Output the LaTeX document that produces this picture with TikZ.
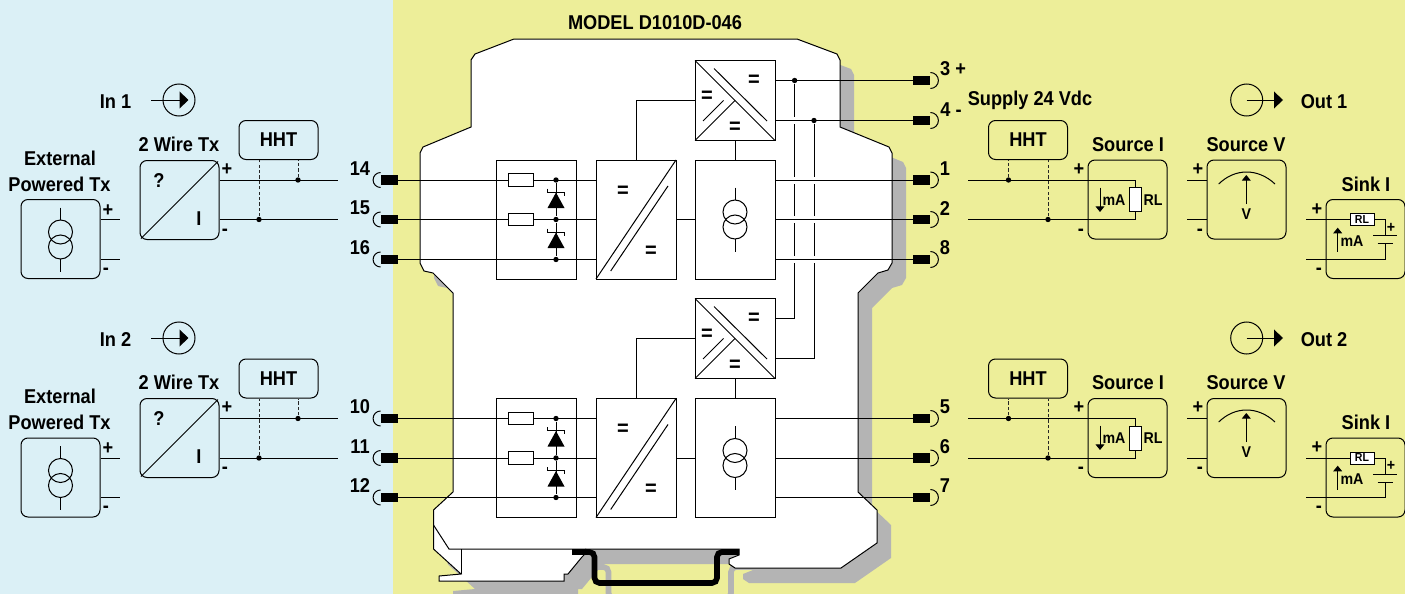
\documentclass[tikz,border=0pt]{standalone}
\usepackage{fontspec}
\setmainfont{Liberation Sans}[FakeStretch=0.91]
\usepackage{xcolor}
\usepackage{tikz}
\usetikzlibrary{arrows.meta}
\definecolor{hazardblue}{RGB}{219,240,246}
\definecolor{safeyellow}{RGB}{237,238,153}
\definecolor{shadowgray}{RGB}{180,180,180}

\begin{document}
\begin{tikzpicture}%
                [x={(0.5pt, 0pt)},
                y={(0pt, -0.5pt)},
                wire/.style={color=black, line width=0.5pt},
                dashwire/.style={color=black!85, line width=0.5pt, dash pattern=on 1.6pt off 1.1pt},
                lbl/.style={inner sep=0pt, font=\bfseries\fontsize{10}{12}\selectfont},
                minilbl/.style={inner sep=0pt, font=\bfseries\fontsize{7.8}{9}\selectfont},
                eqmark/.style={inner sep=0pt, font=\bfseries\fontsize{11}{12}\selectfont},
                block/.style={draw=black, line width=0.5pt, fill=white, inner sep=0pt, minimum width=40pt, minimum height=59.5pt},
                squarebox/.style={block, minimum height=40pt},
                txbox/.style={draw=black, line width=0.5pt, inner sep=0pt, rounded corners=3.5pt, minimum width=39.5pt, minimum height=39.5pt},
                hhtbox/.style={txbox, lbl, minimum height=19.5pt},
                resbox/.style={draw=black, line width=0.5pt, fill=white, inner sep=0pt, minimum width=12.5pt, minimum height=6.2pt},
                rlbox/.style={draw=black, line width=0.5pt, fill=white, inner sep=0pt, minimum width=6pt, minimum height=12pt},
                rlsink/.style={draw=black, line width=0.5pt, fill=white, inner sep=0pt, minimum width=12pt, minimum height=6pt, font=\bfseries\fontsize{5.8}{7}\selectfont},
                termblk/.style={fill=black, inner sep=0pt, minimum width=8.5pt, minimum height=4.6pt},
                vertex/.style={circle, fill=black, inner sep=0pt, minimum size=2.7pt},
                port/.style={circle, draw=black, line width=0.5pt, inner sep=0pt, minimum size=16pt},
                bigtip/.style={wire, -{Triangle[length=4.5pt, width=8.4pt]}},
                smalltip/.style={wire, -{Triangle[length=2.8pt, width=4.4pt]}},
                railline/.style={line width=2.8pt, rounded corners=2.5pt},
                csource/.pic={
                    \draw[wire] (0,-7.5) circle[radius=6pt];
                    \draw[wire] (0,7.5) circle[radius=6pt];
                    \draw[wire] (0,-32) -- (0,-19.5);
                    \draw[wire] (0,19.5) -- (0,32);
                },
                zener/.pic={
                    \fill[black] (0,-7.5) -- (8.5,8) -- (-8.5,8) -- cycle;
                    \draw[black, line width=0.5pt] (-8.5,-11.5) -- (-8.5,-8) -- (8.5,-8) -- (8.5,-4.5);
                },
                convmarks/.pic={
                    \draw[wire] (-40,59.5) -- (40,-59.5);
                    \draw[wire] (32,-33.5) -- (-25.3,51.5);
                    \node[eqmark] (-eqa) at (-13,-28) {=};
                    \node[eqmark] (-eqb) at (15,32) {=};
                },
                dcdcmarks/.pic={
                    \draw[wire] (-40,-40) -- (40,40);
                    \draw[wire] (-21,-32) -- (32,20.5);
                    \draw[wire] (-40,40) -- (0,0);
                    \draw[wire] (-32,20.5) -- (-11.5,0);
                    \node[eqmark] (-eqa) at (19,-20) {=};
                    \node[eqmark] (-eqb) at (-28,-4) {=};
                    \node[eqmark] (-eqc) at (0,27.5) {=};
                }]
            %%
            %% Drawing the two areas
            %%
            \useasboundingbox (0,0) rectangle (1405,594);
            \fill[hazardblue] (0,0) rectangle (393,594);
            \fill[safeyellow] (393,0) rectangle (1405,594);
            %%
            %% Drawing the housing with its shadow, and the rail
            %%
            \begin{scope}
            \clip (0,0) rectangle (1405,594);
            \draw[railline, shadowgray, transform canvas={xshift=7pt, yshift=-7.5pt}] (572,552) -- (594.5,552) -- (594.5,583) -- (717,583) -- (717,552) -- (739,552);
            \draw[wire, fill=white, preaction={fill=shadowgray, transform canvas={xshift=7pt, yshift=-7.5pt}}]
                (514,39) -- (797,39) -- (837,54) -- (840,60) -- (840,127) -- (889,147) -- (892,153) -- (892,263)
                -- (888,270) -- (878,273) -- (858,293) -- (858,492) -- (877,510) -- (877,543) -- (841,568) -- (735,568)
                -- (729,564) -- (729,559) -- (739,555) -- (739,549) -- (586,549) -- (584,555) -- (582,557) -- (568,574)
                -- (564,574) -- (564,581) -- (439,581) -- (439,576) -- (461,574) -- (433.5,549) -- (433.5,510)
                -- (453,492) -- (453,293) -- (433,273) -- (424,271) -- (420,263) -- (420,153) -- (423,147) -- (471,127)
                -- (471,60) -- (475,54) -- cycle;
            \end{scope}
            \draw[wire] (433.5,525) -- (449,549) -- (586,549);
            \draw[wire] (461,549) -- (461,574);
            \draw[railline, black] (572,552) -- (594.5,552) -- (594.5,583) -- (717,583) -- (717,552) -- (739,552);
            \node[lbl] (model) at (655,23) {MODEL D1010D-046};
            %%
            %% Blocks of the two channels
            %%
            \node[block] (prot1) at (536.5,219.5) {};
            \node[block] (conv1) at (636,219.5) {};
            \node[block] (src1) at (735,219.5) {};
            \node[squarebox] (dcdc1) at (735,100.5) {};
            \node[block] (prot2) at (536.5,458) {};
            \node[block] (conv2) at (636,458) {};
            \node[block] (src2) at (735,458) {};
            \node[squarebox] (dcdc2) at (735,338.5) {};
            \pic (conv1m) at (636,219.5) {convmarks};
            \pic (conv2m) at (636,458) {convmarks};
            \pic (src1m) at (735,219.5) {csource};
            \pic (src2m) at (735,458) {csource};
            \pic (dcdc1m) at (735,100.5) {dcdcmarks};
            \pic (dcdc2m) at (735,338.5) {dcdcmarks};
            %%
            %% Input terminals
            %%
            \node[termblk] (t14) at (389.5,180) {};
            \node[termblk] (t15) at (389.5,219.5) {};
            \node[termblk] (t16) at (389.5,259.5) {};
            \node[termblk] (t10) at (389.5,418.5) {};
            \node[termblk] (t11) at (389.5,458) {};
            \node[termblk] (t12) at (389.5,497.5) {};
            \draw[wire] (t14.west) ++(0,-7.5) arc[start angle=90, end angle=270, radius=3.75pt];
            \draw[wire] (t15.west) ++(0,-7.5) arc[start angle=90, end angle=270, radius=3.75pt];
            \draw[wire] (t16.west) ++(0,-7.5) arc[start angle=90, end angle=270, radius=3.75pt];
            \draw[wire] (t10.west) ++(0,-7.5) arc[start angle=90, end angle=270, radius=3.75pt];
            \draw[wire] (t11.west) ++(0,-7.5) arc[start angle=90, end angle=270, radius=3.75pt];
            \draw[wire] (t12.west) ++(0,-7.5) arc[start angle=90, end angle=270, radius=3.75pt];
            \node[lbl] (n14) at (360,169) {14};
            \node[lbl] (n15) at (360,208) {15};
            \node[lbl] (n16) at (360,248) {16};
            \node[lbl] (n10) at (360,407) {10};
            \node[lbl] (n11) at (360,447) {11};
            \node[lbl] (n12) at (360,486) {12};
            %%
            %% Output terminals
            %%
            \node[termblk] (t3) at (921.5,80.5) {};
            \node[termblk] (t4) at (921.5,120.5) {};
            \node[termblk] (t1) at (921.5,180) {};
            \node[termblk] (t2) at (921.5,219.5) {};
            \node[termblk] (t8) at (921.5,259.5) {};
            \node[termblk] (t5) at (921.5,418.5) {};
            \node[termblk] (t6) at (921.5,458) {};
            \node[termblk] (t7) at (921.5,497.5) {};
            \draw[wire] (t3.east) ++(0,-8) arc[start angle=90, end angle=-90, radius=4pt];
            \draw[wire] (t4.east) ++(0,-8) arc[start angle=90, end angle=-90, radius=4pt];
            \draw[wire] (t1.east) ++(0,-8) arc[start angle=90, end angle=-90, radius=4pt];
            \draw[wire] (t2.east) ++(0,-8) arc[start angle=90, end angle=-90, radius=4pt];
            \draw[wire] (t8.east) ++(0,-8) arc[start angle=90, end angle=-90, radius=4pt];
            \draw[wire] (t5.east) ++(0,-8) arc[start angle=90, end angle=-90, radius=4pt];
            \draw[wire] (t6.east) ++(0,-8) arc[start angle=90, end angle=-90, radius=4pt];
            \draw[wire] (t7.east) ++(0,-8) arc[start angle=90, end angle=-90, radius=4pt];
            \node[lbl] (n3) at (953,69) {3 +};
            \node[lbl] (n4) at (951,110) {4 -};
            \node[lbl] (n1) at (945,169) {1};
            \node[lbl] (n2) at (945,209) {2};
            \node[lbl] (n8) at (945,248) {8};
            \node[lbl] (n5) at (945,407) {5};
            \node[lbl] (n6) at (945,447) {6};
            \node[lbl] (n7) at (945,486) {7};
            %%
            %% Supply lines, cut where other wires cross them
            %%
            \node[vertex] (sup3) at (794.6,80.5) {};
            \node[vertex] (sup4) at (814,120.5) {};
            \draw[wire] (sup3) |- ([yshift=10pt]dcdc2.east);
            \draw[wire] (sup4) |- ([yshift=-10pt]dcdc2.east);
            \fill[white] (790,117) rectangle (799,124);
            \fill[white] (790,176.5) rectangle (818,183.5);
            \fill[white] (790,216) rectangle (818,223);
            \fill[white] (790,255.5) rectangle (818,262.5);
            \draw[wire] ([yshift=10pt]dcdc1.east) -- (t3.west);
            \draw[wire] ([yshift=-10pt]dcdc1.east) -- (t4.west);
            %%
            %% Wires inside the channels
            %%
            \draw[wire] (conv1.north) |- (dcdc1.west);
            \draw[wire] (conv2.north) |- (dcdc2.west);
            \draw[wire] (src1.north) -- (dcdc1.south);
            \draw[wire] (src2.north) -- (dcdc2.south);
            \draw[wire] (conv1.east) -- (src1.west);
            \draw[wire] (conv2.east) -- (src2.west);
            \draw[wire] (t14.east) -- (t14.east -| conv1.west);
            \draw[wire] (t15.east) -- (t15.east -| conv1.west);
            \draw[wire] (t16.east) -- (t16.east -| conv1.west);
            \draw[wire] (t10.east) -- (t10.east -| conv2.west);
            \draw[wire] (t11.east) -- (t11.east -| conv2.west);
            \draw[wire] (t12.east) -- (t12.east -| conv2.west);
            \draw[wire] (t1.west) -- (t1.west -| src1.east);
            \draw[wire] (t2.west) -- (t2.west -| src1.east);
            \draw[wire] (t8.west) -- (t8.west -| src1.east);
            \draw[wire] (t5.west) -- (t5.west -| src2.east);
            \draw[wire] (t6.west) -- (t6.west -| src2.east);
            \draw[wire] (t7.west) -- (t7.west -| src2.east);
            %%
            %% Input protection
            %%
            \node[resbox] (r14) at (520.5,180) {};
            \node[resbox] (r15) at (520.5,219.5) {};
            \node[resbox] (r10) at (520.5,418.5) {};
            \node[resbox] (r11) at (520.5,458) {};
            \node[vertex] (d14) at (556,180) {};
            \node[vertex] (d15) at (556,219.5) {};
            \node[vertex] (d16) at (556,259.5) {};
            \node[vertex] (d10) at (556,418.5) {};
            \node[vertex] (d11) at (556,458) {};
            \node[vertex] (d12) at (556,497.5) {};
            \draw[wire] (d14) -- (d15) -- (d16);
            \draw[wire] (d10) -- (d11) -- (d12);
            \pic (z1a) at (556,200) {zener};
            \pic (z1b) at (556,240) {zener};
            \pic (z2a) at (556,438.5) {zener};
            \pic (z2b) at (556,478.5) {zener};
            %%
            %% Channel 1, input side
            %%
            \node[lbl] (in1lbl) at (115.5,101.5) {In 1};
            \node[port] (in1) at (179,100) {};
            \coordinate (in1a) at (151,100);
            \coordinate (in1b) at (188.5,100);
            \draw[bigtip] (in1a) -- (in1b);
            \node[lbl] (ext1t) at (60,158) {External};
            \node[lbl] (ext1u) at (59.5,184) {Powered Tx};
            \node[txbox] (ext1) at (60.5,239) {};
            \pic (ext1m) at (60.5,239.5) {csource};
            \coordinate (e1a) at (120,219.5);
            \coordinate (e1b) at (120,259.5);
            \draw[wire] (ext1.east |- e1a) -- (e1a);
            \draw[wire] (ext1.east |- e1b) -- (e1b);
            \node[lbl] (e1p) at (108,211) {+};
            \node[lbl] (e1n) at (106,271) {-};
            \node[lbl] (tx1t) at (179,144) {2 Wire Tx};
            \node[txbox] (tx1) at (179.5,200) {};
            \coordinate (tx1a) at ([shift={(1.5,-1.5)}]tx1.south west);
            \coordinate (tx1b) at ([shift={(-1.5,1.5)}]tx1.north east);
            \draw[wire] (tx1a) -- (tx1b);
            \node[lbl] (tx1q) at (159,181) {?};
            \node[lbl] (tx1i) at (199,219) {I};
            \node[lbl] (tx1p) at (227,170) {+};
            \node[lbl] (tx1n) at (225,232) {-};
            \coordinate (w14) at (338,180);
            \coordinate (w15) at (338,219.5);
            \draw[wire] (tx1.east |- w14) -- (w14);
            \draw[wire] (tx1.east |- w15) -- (w15);
            \node[hhtbox] (hht1) at (278.5,140) {HHT};
            \node[vertex] (h1a) at (298,180) {};
            \node[vertex] (h1b) at (259,219.5) {};
            \draw[dashwire] (h1a) -- (h1a |- hht1.south);
            \draw[dashwire] (h1b) -- (h1b |- hht1.south);
            %%
            %% Channel 2, input side
            %%
            \node[lbl] (in2lbl) at (115.5,339.5) {In 2};
            \node[port] (in2) at (179,338) {};
            \coordinate (in2a) at (151,338);
            \coordinate (in2b) at (188.5,338);
            \draw[bigtip] (in2a) -- (in2b);
            \node[lbl] (ext2t) at (60,396) {External};
            \node[lbl] (ext2u) at (59.5,422) {Powered Tx};
            \node[txbox] (ext2) at (60.5,477.5) {};
            \pic (ext2m) at (60.5,478) {csource};
            \coordinate (e2a) at (120,458);
            \coordinate (e2b) at (120,497.5);
            \draw[wire] (ext2.east |- e2a) -- (e2a);
            \draw[wire] (ext2.east |- e2b) -- (e2b);
            \node[lbl] (e2p) at (108,449) {+};
            \node[lbl] (e2n) at (106,509) {-};
            \node[lbl] (tx2t) at (179,382.5) {2 Wire Tx};
            \node[txbox] (tx2) at (179.5,438) {};
            \coordinate (tx2a) at ([shift={(1.5,-1.5)}]tx2.south west);
            \coordinate (tx2b) at ([shift={(-1.5,1.5)}]tx2.north east);
            \draw[wire] (tx2a) -- (tx2b);
            \node[lbl] (tx2q) at (159,419) {?};
            \node[lbl] (tx2i) at (199,457) {I};
            \node[lbl] (tx2p) at (227,408) {+};
            \node[lbl] (tx2n) at (225,470) {-};
            \coordinate (w10) at (338,418.5);
            \coordinate (w11) at (338,458);
            \draw[wire] (tx2.east |- w10) -- (w10);
            \draw[wire] (tx2.east |- w11) -- (w11);
            \node[hhtbox] (hht2) at (278.5,378.5) {HHT};
            \node[vertex] (h2a) at (298,418.5) {};
            \node[vertex] (h2b) at (259,458) {};
            \draw[dashwire] (h2a) -- (h2a |- hht2.south);
            \draw[dashwire] (h2b) -- (h2b |- hht2.south);
            %%
            %% Channel 1, output side
            %%
            \node[lbl] (supply) at (1030,100.5) {Supply 24 Vdc};
            \node[port] (out1) at (1246.7,100) {};
            \coordinate (out1a) at (1246.7,100);
            \coordinate (out1b) at (1283,100);
            \draw[bigtip] (out1a) -- (out1b);
            \node[lbl] (out1lbl) at (1324,101.5) {Out 1};
            \node[hhtbox] (hht1r) at (1028,140) {HHT};
            \node[lbl] (si1t) at (1128,145) {Source I};
            \node[txbox] (si1) at (1127.5,199.5) {};
            \node[rlbox] (rl1) at (1135.5,199.7) {};
            \coordinate (w1r) at (968,180);
            \coordinate (w2r) at (968,219.5);
            \draw[wire] (w1r) -| (rl1.north);
            \draw[wire] (w2r) -| (rl1.south);
            \node[vertex] (h1c) at (1008.5,180) {};
            \node[vertex] (h1d) at (1048,219.5) {};
            \draw[dashwire] (h1c) -- (h1c |- hht1r.south);
            \draw[dashwire] (h1d) -- (h1d |- hht1r.south);
            \node[lbl] (si1p) at (1079,170) {+};
            \node[lbl] (si1n) at (1081,232) {-};
            \coordinate (ma1a) at (1100,187.5);
            \coordinate (ma1b) at (1100,212);
            \draw[smalltip] (ma1a) -- (ma1b);
            \node[minilbl] (ma1) at (1114,200.5) {mA};
            \node[minilbl] (rl1t) at (1153,200.5) {RL};
            \node[lbl] (sv1t) at (1246,145) {Source V};
            \node[txbox] (sv1) at (1246.5,199.5) {};
            \coordinate (v1a) at (1187,180);
            \coordinate (v1b) at (1187,219.5);
            \draw[wire] (v1a) -- (v1a -| sv1.west);
            \draw[wire] (v1b) -- (v1b -| sv1.west);
            \node[lbl] (sv1p) at (1198,170) {+};
            \node[lbl] (sv1n) at (1200,232) {-};
            \draw[wire] (1218.7,184) .. controls (1235,168) and (1258,168) .. (1275,184);
            \node[minilbl] (v1) at (1246.3,214) {V};
            \coordinate (mt1) at (1246.3,175);
            \draw[smalltip] ([yshift=2pt]v1.north) -- (mt1);
            \node[lbl] (sk1t) at (1366,184) {Sink I};
            \node[txbox] (sk1) at (1365.5,239) {};
            \node[rlsink] (rls1) at (1362,219.5) {RL};
            \coordinate (w3s) at (1306,219.5);
            \coordinate (w4s) at (1306,259.5);
            \coordinate (b1p) at (1385,235.5);
            \coordinate (b1n) at (1385,243.5);
            \draw[wire] (w3s) -- (rls1.west);
            \draw[wire] (rls1.east) -| (b1p);
            \draw[wire] (b1n) |- (w4s);
            \draw[wire] ([xshift=-6pt]b1p) -- ([xshift=6pt]b1p);
            \draw[wire] ([xshift=-3.75pt]b1n) -- ([xshift=3.75pt]b1n);
            \node[minilbl] (sk1b) at (1391,228) {+};
            \node[lbl] (sk1p) at (1317,210) {+};
            \node[lbl] (sk1n) at (1319,271) {-};
            \coordinate (ma1c) at (1337.7,251.7);
            \coordinate (ma1d) at (1337.7,227.7);
            \draw[smalltip] (ma1c) -- (ma1d);
            \node[minilbl] (mas1) at (1352,241) {mA};
            %%
            %% Channel 2, output side
            %%
            \node[port] (out2) at (1246.7,338) {};
            \coordinate (out2a) at (1246.7,338);
            \coordinate (out2b) at (1283,338);
            \draw[bigtip] (out2a) -- (out2b);
            \node[lbl] (out2lbl) at (1324,339.5) {Out 2};
            \node[hhtbox] (hht2r) at (1028,378.5) {HHT};
            \node[lbl] (si2t) at (1128,383) {Source I};
            \node[txbox] (si2) at (1127.5,438) {};
            \node[rlbox] (rl2) at (1135.5,438) {};
            \coordinate (w5r) at (968,418.5);
            \coordinate (w6r) at (968,458);
            \draw[wire] (w5r) -| (rl2.north);
            \draw[wire] (w6r) -| (rl2.south);
            \node[vertex] (h2c) at (1008.5,418.5) {};
            \node[vertex] (h2d) at (1048,458) {};
            \draw[dashwire] (h2c) -- (h2c |- hht2r.south);
            \draw[dashwire] (h2d) -- (h2d |- hht2r.south);
            \node[lbl] (si2p) at (1079,408) {+};
            \node[lbl] (si2n) at (1081,470) {-};
            \coordinate (ma2a) at (1100,425.5);
            \coordinate (ma2b) at (1100,450);
            \draw[smalltip] (ma2a) -- (ma2b);
            \node[minilbl] (ma2) at (1114,438.5) {mA};
            \node[minilbl] (rl2t) at (1153,438.5) {RL};
            \node[lbl] (sv2t) at (1246,383) {Source V};
            \node[txbox] (sv2) at (1246.5,438) {};
            \coordinate (v2a) at (1187,418.5);
            \coordinate (v2b) at (1187,458);
            \draw[wire] (v2a) -- (v2a -| sv2.west);
            \draw[wire] (v2b) -- (v2b -| sv2.west);
            \node[lbl] (sv2p) at (1198,408) {+};
            \node[lbl] (sv2n) at (1200,470) {-};
            \draw[wire] (1218.7,422) .. controls (1235,406) and (1258,406) .. (1275,422);
            \node[minilbl] (v2) at (1246.3,452) {V};
            \coordinate (mt2) at (1246.3,413);
            \draw[smalltip] ([yshift=2pt]v2.north) -- (mt2);
            \node[lbl] (sk2t) at (1366,422) {Sink I};
            \node[txbox] (sk2) at (1365.5,477.5) {};
            \node[rlsink] (rls2) at (1362,458) {RL};
            \coordinate (w7s) at (1306,458);
            \coordinate (w8s) at (1306,497.5);
            \coordinate (b2p) at (1385,474);
            \coordinate (b2n) at (1385,482);
            \draw[wire] (w7s) -- (rls2.west);
            \draw[wire] (rls2.east) -| (b2p);
            \draw[wire] (b2n) |- (w8s);
            \draw[wire] ([xshift=-6pt]b2p) -- ([xshift=6pt]b2p);
            \draw[wire] ([xshift=-3.75pt]b2n) -- ([xshift=3.75pt]b2n);
            \node[minilbl] (sk2b) at (1391,466) {+};
            \node[lbl] (sk2p) at (1317,448) {+};
            \node[lbl] (sk2n) at (1319,509) {-};
            \coordinate (ma2c) at (1337.7,489.7);
            \coordinate (ma2d) at (1337.7,465.7);
            \draw[smalltip] (ma2c) -- (ma2d);
            \node[minilbl] (mas2) at (1352,479) {mA};
            %%
            %%
            \end{tikzpicture}
\end{document}
